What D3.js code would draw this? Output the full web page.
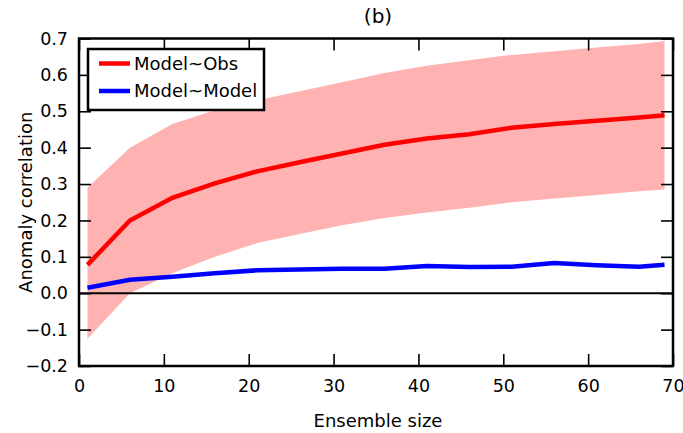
<!DOCTYPE html>
<html>
<head>
<meta charset="utf-8">
<script src="https://cdn.jsdelivr.net/npm/d3@7"></script>
<style>
  body { margin: 0; background: #fff; }
  svg text { font-family: "DejaVu Sans", sans-serif; fill: #000; }
</style>
</head>
<body>
<div id="chart"></div>
<script>
// ensemble sizes and correlations
var ensembleSize = [1, 6, 11, 16, 21, 26, 31, 36, 41, 46, 51, 56, 61, 66, 69];
var obsMean  = [0.078, 0.200, 0.262, 0.302, 0.335, 0.360, 0.384, 0.408, 0.425, 0.437, 0.455, 0.465, 0.474, 0.483, 0.489];
var obsUpper = [0.290, 0.400, 0.465, 0.503, 0.530, 0.555, 0.580, 0.605, 0.625, 0.640, 0.655, 0.665, 0.675, 0.685, 0.693];
var obsLower = [-0.125, 0.000, 0.055, 0.100, 0.138, 0.163, 0.187, 0.207, 0.222, 0.235, 0.250, 0.260, 0.270, 0.280, 0.285];
var modelModel = [0.015, 0.037, 0.045, 0.055, 0.063, 0.065, 0.067, 0.067, 0.075, 0.072, 0.073, 0.083, 0.077, 0.073, 0.078];
var xTicks = [0, 10, 20, 30, 40, 50, 60, 70];
var yTicks = [-0.2, -0.1, 0.0, 0.1, 0.2, 0.3, 0.4, 0.5, 0.6, 0.7];

var margin = {left: 79, right: 10, top: 38.5, bottom: 67};
var W = 683, H = 433;
var width = W - margin.left - margin.right,
	height = H - margin.top - margin.bottom;

var svg = d3.select("#chart").append("svg")
	.attr("width", W)
	.attr("height", H);

var g = svg.append("g")
	.attr("transform", "translate(" + margin.left + "," + margin.top + ")");

var x = d3.scaleLinear().domain([0, 70]).range([0, width]);
var y = d3.scaleLinear().domain([-0.2, 0.7]).range([height, 0]);

var pts = ensembleSize.map(function(s, i){
	return {s: s, m: obsMean[i], hi: obsUpper[i], lo: obsLower[i], mm: modelModel[i]};
});

// spread band
g.append("path")
	.datum(pts)
	.attr("fill", "#ffb2b2")
	.attr("d", d3.area()
		.x(function(d){ return x(d.s); })
		.y0(function(d){ return y(d.lo); })
		.y1(function(d){ return y(d.hi); }));

// zero line
g.append("line")
	.attr("x1", 0).attr("x2", width)
	.attr("y1", y(0)).attr("y2", y(0))
	.attr("stroke", "#000").attr("stroke-width", 2);

g.append("path")
	.datum(pts)
	.attr("fill", "none")
	.attr("stroke", "#ff0000")
	.attr("stroke-width", 4.5)
	.attr("d", d3.line().x(function(d){ return x(d.s); }).y(function(d){ return y(d.m); }));

g.append("path")
	.datum(pts)
	.attr("fill", "none")
	.attr("stroke", "#0000ff")
	.attr("stroke-width", 4.5)
	.attr("d", d3.line().x(function(d){ return x(d.s); }).y(function(d){ return y(d.mm); }));

// axes, ticks pointing inward on all four sides
var fmtY = function(d){ return d3.format(".1f")(d).replace("-", "\u2212"); };
var tl = 12;

var xAxisCall = d3.axisBottom(x).tickValues(xTicks).tickSizeInner(-tl).tickSizeOuter(0).tickPadding(14);
var yAxisCall = d3.axisLeft(y).tickValues(yTicks).tickFormat(fmtY).tickSizeInner(-tl).tickSizeOuter(0).tickPadding(11);

g.append("g").attr("class", "x axis")
	.attr("transform", "translate(0," + height + ")")
	.call(xAxisCall);
g.append("g").attr("class", "y axis")
	.call(yAxisCall);
g.append("g").attr("class", "x2 axis")
	.call(d3.axisTop(x).tickValues(xTicks).tickSizeInner(-tl).tickSizeOuter(0).tickFormat(""));
g.append("g").attr("class", "y2 axis")
	.attr("transform", "translate(" + width + ",0)")
	.call(d3.axisRight(y).tickValues(yTicks).tickSizeInner(-tl).tickSizeOuter(0).tickFormat(""));

g.selectAll(".axis path.domain").remove();
g.selectAll(".axis line").attr("stroke", "#000").attr("stroke-width", 1.6);
g.selectAll(".axis text").attr("font-size", "17.5px").style("font-family", "DejaVu Sans, sans-serif");

// frame
g.append("rect")
	.attr("x", 0).attr("y", 0)
	.attr("width", width).attr("height", height)
	.attr("fill", "none")
	.attr("stroke", "#000")
	.attr("stroke-width", 2.5);

// legend
var legendItems = [{label: "Model~Obs", color: "#ff0000"}, {label: "Model~Model", color: "#0000ff"}];
var leg = svg.append("g").attr("transform", "translate(88,49)");
leg.append("rect")
	.attr("width", 176).attr("height", 61)
	.attr("fill", "#fff")
	.attr("stroke", "#000")
	.attr("stroke-width", 2.5);
leg.selectAll("g.item")
	.data(legendItems)
	.enter().append("g")
	.attr("class", "item")
	.attr("transform", function(d, i){ return "translate(0," + (14.5 + i * 27.5) + ")"; })
	.each(function(d){
		var it = d3.select(this);
		it.append("line")
			.attr("x1", 11).attr("x2", 42)
			.attr("stroke", d.color).attr("stroke-width", 4.5);
		it.append("text")
			.attr("x", 46).attr("y", 0)
			.attr("dy", "0.36em")
			.attr("font-size", "18px")
			.text(d.label);
	});

// titles
svg.append("text")
	.attr("x", 378).attr("y", 23)
	.attr("text-anchor", "middle")
	.attr("font-size", "20px")
	.text("(b)");

svg.append("text")
	.attr("x", 378).attr("y", 426.5)
	.attr("text-anchor", "middle")
	.attr("font-size", "18px")
	.text("Ensemble size");

svg.append("text")
	.attr("transform", "translate(31.5," + (margin.top + height / 2) + ") rotate(-90)")
	.attr("text-anchor", "middle")
	.attr("font-size", "18px")
	.text("Anomaly correlation");
</script>
</body>
</html>
